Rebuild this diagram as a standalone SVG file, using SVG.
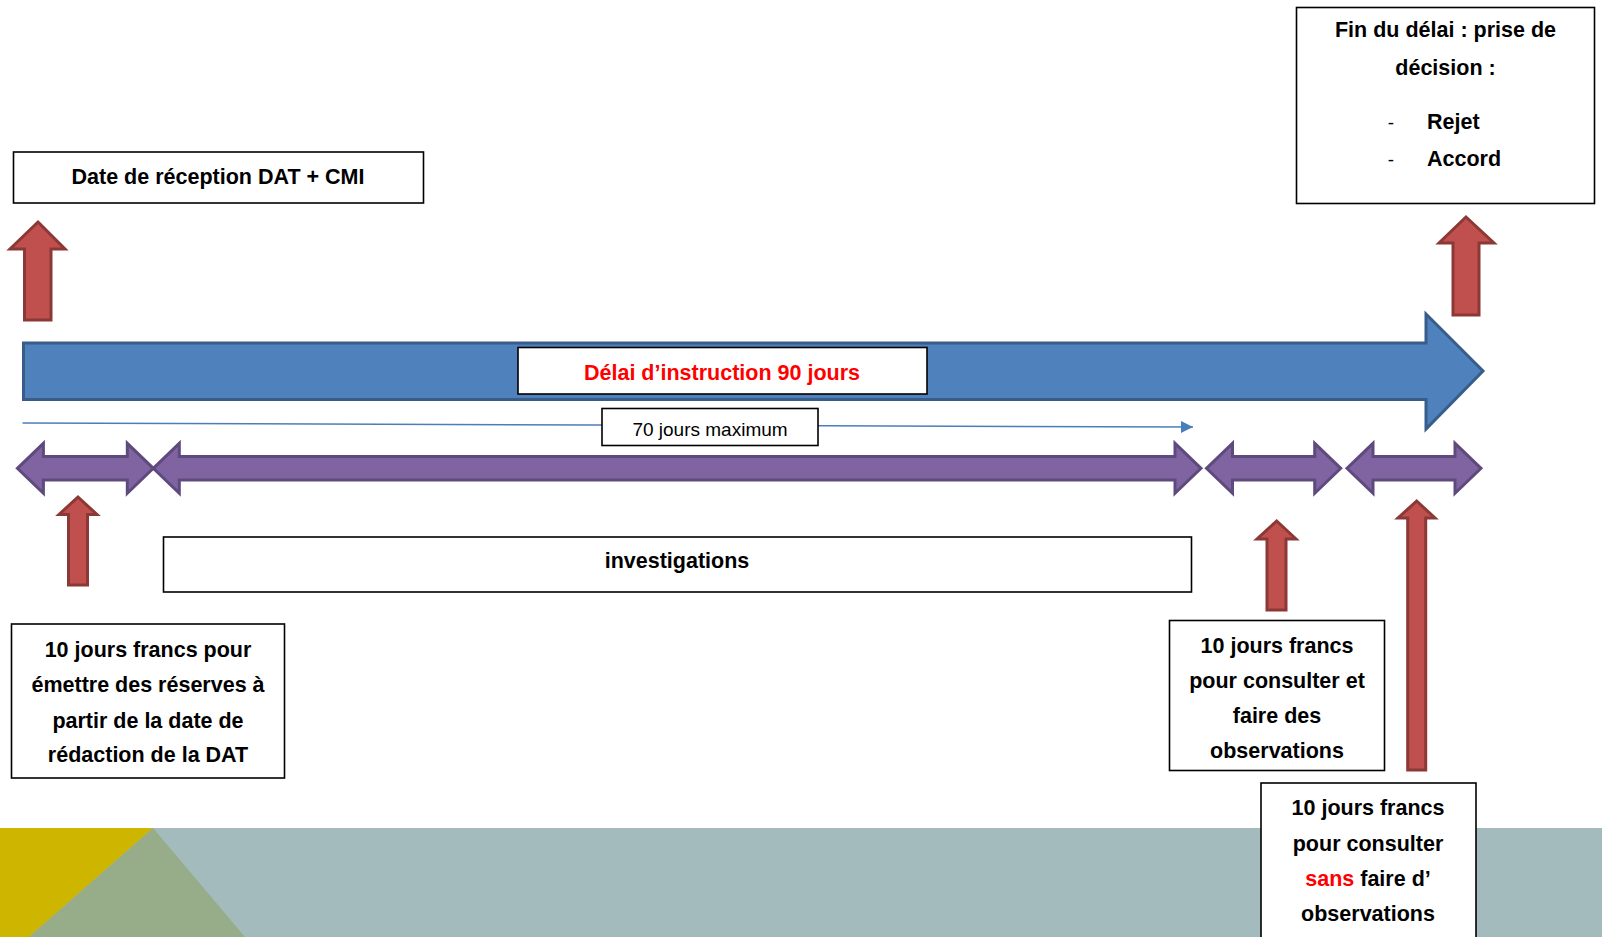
<svg xmlns="http://www.w3.org/2000/svg" width="1602" height="937" viewBox="0 0 1602 937">
<defs>
<style>
.box{fill:#fff;stroke:#000;stroke-width:1.6}
.red{fill:#C0504D;stroke:#8C3836;stroke-width:3}
.pur{fill:#8064A2;stroke:#5F4A7E;stroke-width:3;stroke-linejoin:miter}
.t{font-family:"Liberation Sans",Arial,sans-serif;font-weight:bold;font-size:21.5px;fill:#000;text-anchor:middle}
.tr{font-family:"Liberation Sans",Arial,sans-serif;font-size:19px;fill:#000;text-anchor:middle}
.rt{fill:#FF0000}
</style>
<marker id="ah" viewBox="0 0 12 12" refX="12" refY="6" markerWidth="12" markerHeight="12" markerUnits="userSpaceOnUse" orient="auto">
<path d="M0,0 L12,6 L0,12 z" fill="#4A7EBB"/>
</marker>
</defs>
<rect width="1602" height="937" fill="#fff"/>
<g id="background">
<rect x="0" y="828" width="1602" height="109" fill="#A3BBBD"/>
<polygon points="0,828 153,828 29,937 0,937" fill="#CDB500"/>
<polygon points="153,828 245,937 29,937" fill="#97AD8A"/>
</g>
<g id="connectors">
<polygon id="blue-arrow" points="23.5,343 1426,343 1426,314 1483,371 1426,429 1426,399.5 23.5,399.5" fill="#4F81BD" stroke="#385D8A" stroke-width="3"/>
<line x1="22.5" y1="423" x2="1193" y2="427" stroke="#4A7EBB" stroke-width="1.5" marker-end="url(#ah)"/>
<polygon class="pur" points="17.4,468.3 43.4,443.3 43.4,456.5 127.3,456.5 127.3,443.3 153.3,468.3 127.3,493.3 127.3,480 43.4,480 43.4,493.3"/>
<polygon class="pur" points="153.3,468.3 179.3,443.3 179.3,456.5 1175,456.5 1175,443.3 1201,468.3 1175,493.3 1175,480 179.3,480 179.3,493.3"/>
<polygon class="pur" points="1206.5,468.3 1232.5,443.3 1232.5,456.5 1314.7,456.5 1314.7,443.3 1340.7,468.3 1314.7,493.3 1314.7,480 1232.5,480 1232.5,493.3"/>
<polygon class="pur" points="1347,468.3 1373,443.3 1373,456.5 1455,456.5 1455,443.3 1481,468.3 1455,493.3 1455,480 1373,480 1373,493.3"/>
<polygon class="red" points="38,222 65,249 51,249 51,320 24.5,320 24.5,249 10,249"/>
<polygon class="red" points="1466,217 1494,243 1479,243 1479,315 1453,315 1453,243 1439,243"/>
<polygon class="red" points="78,497 97,514.5 87.5,514.5 87.5,585 68.5,585 68.5,514.5 59,514.5"/>
<polygon class="red" points="1276.7,521 1296,539 1286,539 1286,610 1267,610 1267,539 1257,539"/>
<polygon class="red" points="1416.7,501 1435,518 1425.7,518 1425.7,770 1407.7,770 1407.7,518 1398,518"/>
</g>
<g id="node-date">
<rect class="box" x="13.5" y="152" width="410" height="51"/>
<text class="t" x="218" y="184">Date de réception DAT + CMI</text>
</g>
<g id="node-fin">
<rect class="box" x="1296.5" y="7.5" width="298" height="196"/>
<text class="t" x="1445.5" y="37">Fin du délai : prise de</text>
<text class="t" x="1445.5" y="75">décision :</text>
<text class="tr" x="1391" y="129">-</text>
<text class="t" x="1427" y="129" style="text-anchor:start">Rejet</text>
<text class="tr" x="1391" y="165.5">-</text>
<text class="t" x="1427" y="165.5" style="text-anchor:start">Accord</text>
</g>
<g id="node-delai">
<rect class="box" x="518" y="347.5" width="409" height="46.5"/>
<text class="t" x="722" y="380" style="fill:#FF0000">Délai d’instruction 90 jours</text>
</g>
<g id="node-70">
<rect class="box" x="602" y="408.5" width="216" height="37"/>
<text class="tr" x="710" y="436">70 jours maximum</text>
</g>
<g id="node-investigations">
<rect class="box" x="163.5" y="537" width="1028" height="55"/>
<text class="t" x="677" y="568">investigations</text>
</g>
<g id="node-reserves">
<rect class="box" x="11.5" y="624" width="273" height="154"/>
<text class="t" x="148" y="657">10 jours francs pour</text>
<text class="t" x="148" y="692">émettre des réserves à</text>
<text class="t" x="148" y="727.5">partir de la date de</text>
<text class="t" x="148" y="762">rédaction de la DAT</text>
</g>
<g id="node-consulter-et">
<rect class="box" x="1169.5" y="620.5" width="215" height="150"/>
<text class="t" x="1277" y="653">10 jours francs</text>
<text class="t" x="1277" y="688">pour consulter et</text>
<text class="t" x="1277" y="723">faire des</text>
<text class="t" x="1277" y="758">observations</text>
</g>
<g id="node-consulter-sans">
<rect class="box" x="1261" y="783" width="215" height="170"/>
<text class="t" x="1368" y="815">10 jours francs</text>
<text class="t" x="1368" y="851">pour consulter</text>
<text class="t" x="1368" y="886"><tspan class="rt">sans</tspan> faire d’</text>
<text class="t" x="1368" y="921">observations</text>
</g>
</svg>
